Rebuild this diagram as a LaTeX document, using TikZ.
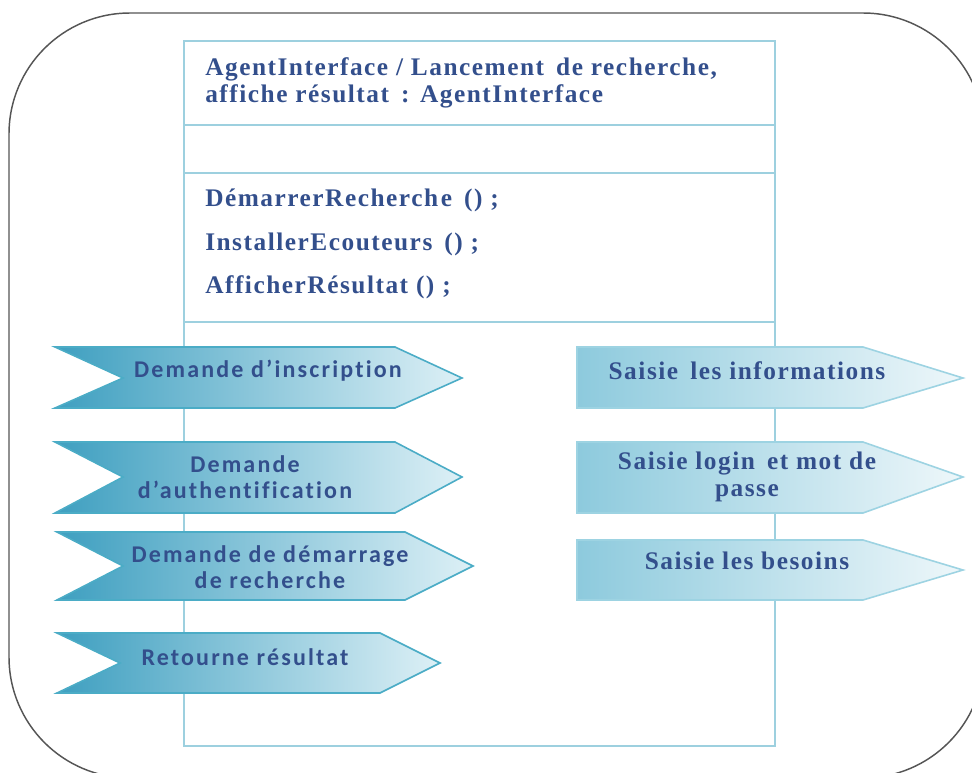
\documentclass[tikz,border=0pt]{standalone}
\usepackage{fontspec}
\setmainfont{Liberation Serif}
\newfontfamily\calib{Carlito}[LetterSpace=9,Ligatures=NoCommon]
\newfontfamily\serifsp{Liberation Serif}[LetterSpace=6]
\definecolor{framegray}{HTML}{555555}
\definecolor{boxblue}{HTML}{9DD0DF}
\definecolor{chevedge}{HTML}{4BACC6}
\definecolor{chevdark}{HTML}{3E9FC0}
\definecolor{chevlight}{HTML}{DDF0F6}
\definecolor{redge}{HTML}{9DD3E2}
\definecolor{rdark}{HTML}{8DCADD}
\definecolor{rlight}{HTML}{EEF7FA}
\definecolor{txtblue}{HTML}{334F8C}
\tikzset{
  frame/.style={draw=framegray, line width=1.1pt},
  classbox/.style={draw=boxblue, line width=1.9pt},
  lchev/.style={draw=chevedge, line width=1.2pt, left color=chevdark, right color=chevlight},
  rchev/.style={draw=redge, line width=1.2pt, left color=rdark, right color=rlight},
  ltext/.style={font=\calib\bfseries\fontsize{18}{19}\selectfont, text=txtblue, align=center, inner sep=0pt},
  stext/.style={font=\serifsp\bfseries\fontsize{19}{20}\selectfont, text=txtblue, align=center, inner sep=0pt},
  ctext/.style={font=\serifsp\bfseries\fontsize{19}{20}\selectfont, text=txtblue, anchor=base west, inner sep=0pt},
}
\begin{document}
\begin{tikzpicture}[x=0.75pt,y=-0.75pt]
\useasboundingbox (0,0) rectangle (972,772);
\begin{scope}
  \clip (0,0) rectangle (972,772);
  \draw[frame, rounded corners=90.75pt] (9,13) rectangle (984,778);
\end{scope}
% class box
\draw[classbox] (184,41) rectangle (775,746);
\draw[classbox] (184,125) -- (775,125);
\draw[classbox] (184,173) -- (775,173);
\draw[classbox] (184,322) -- (775,322);
\node[ctext] (t1) at (205,75) {AgentInterface / Lancement\, de recherche,};
\node[ctext] (t2) at (205,102) {affiche résultat\, : AgentInterface};
\node[ctext] (m1) at (205,206) {DémarrerRecherch\hspace{2pt}e\, () ;};
\node[ctext] (m2) at (205,250) {InstallerEcouteurs\, () ;};
\node[ctext] (m3) at (205,293) {AfficherRésultat () ;};
% left chevrons
\path[lchev] (55,347) -- (395,347) -- (462,378) -- (395,408) -- (55,408) -- (123,378) -- cycle;
\path[lchev] (55,442) -- (395,442) -- (462,477) -- (395,513) -- (55,513) -- (123,477) -- cycle;
\path[lchev] (57,532) -- (405,532) -- (473,566) -- (405,600) -- (57,600) -- (123,566) -- cycle;
\path[lchev] (57,633) -- (380,633) -- (440,663) -- (380,693) -- (57,693) -- (120,663) -- cycle;
\node[ltext] (l1) at (268,371) {Demande d’inscription};
\node[ltext] (l2) at (245,477) {Demande\\d’authentification};
\node[ltext] (l3) at (270,567) {Demande de démarrage\\de recherche};
\node[ltext] (l4) at (245,657) {Retourne résultat};
% right arrows
\path[rchev] (577,347) -- (863,347) -- (963,378) -- (863,408) -- (577,408) -- cycle;
\path[rchev] (577,442) -- (863,442) -- (963,477) -- (863,513) -- (577,513) -- cycle;
\path[rchev] (577,540) -- (863,540) -- (963,570) -- (863,600) -- (577,600) -- cycle;
\node[stext] (r1) at (747,371) {Saisie\, les informations};
\node[stext] (r2) at (747,477) {Saisie login\, et mot de\\passe};
\node[stext] (r3) at (747,561) {Saisie les besoins};
\end{tikzpicture}
\end{document}
